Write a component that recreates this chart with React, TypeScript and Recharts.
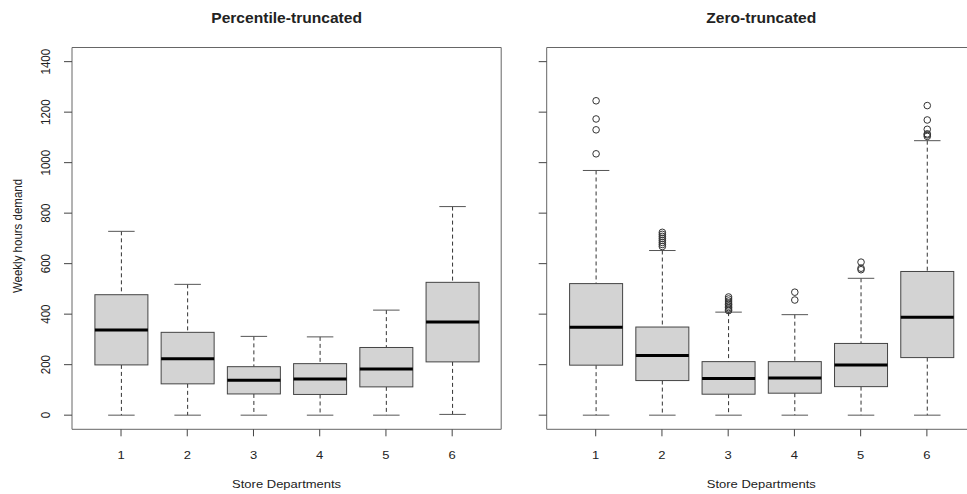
import React from 'react';
import { ComposedChart, Bar, Line, XAxis, YAxis } from 'recharts';

// departments on the x axis, shared by both panels
const departments = ['1', '2', '3', '4', '5', '6'];
const yTicks = [0, 200, 400, 600, 800, 1000, 1200, 1400];

// Percentile-truncated panel
const pctLow = [0, 0, 0, 0, 0, 3];
const pctQ1 = [199, 124, 84, 82, 112, 211];
const pctMedian = [337, 223, 138, 143, 183, 369];
const pctQ3 = [477, 328, 192, 204, 268, 526];
const pctHigh = [728, 518, 312, 310, 416, 826];

// Zero-truncated panel
const zeroLow = [0, 0, 0, 0, 0, 0];
const zeroQ1 = [198, 137, 83, 87, 113, 228];
const zeroMedian = [348, 236, 145, 147, 199, 388];
const zeroQ3 = [521, 349, 212, 212, 284, 569];
const zeroHigh = [969, 652, 408, 398, 542, 1087];
const zeroOutliers = [
  [1035, 1130, 1173, 1245],
  [668, 676, 684, 692, 700, 708, 716, 724],
  [414, 420, 426, 432, 438, 444, 452, 460, 468],
  [456, 487],
  [576, 582, 606],
  [1104, 1110, 1114, 1132, 1169, 1226],
];

const FONT = '"Liberation Sans", Arial, Helvetica, sans-serif';
const TEXT = '#222';
const FRAME = '#666';
const HS = 1.13; // the picture is a bit stretched sideways

type BoxRow = {
  dept: string;
  range: [number, number];
  q1: number;
  median: number;
  q3: number;
  outliers: number[];
};

function buildRows(
  low: number[],
  q1: number[],
  med: number[],
  q3: number[],
  high: number[],
  outliers: number[][]
): BoxRow[] {
  return departments.map((dept, i) => ({
    dept,
    range: [low[i], high[i]],
    q1: q1[i],
    median: med[i],
    q3: q3[i],
    outliers: outliers[i] || [],
  }));
}

const pctRows = buildRows(pctLow, pctQ1, pctMedian, pctQ3, pctHigh, []);
const zeroRows = buildRows(zeroLow, zeroQ1, zeroMedian, zeroQ3, zeroHigh, zeroOutliers);

// whisker range comes from the bar, the rest is placed on the same scale
function BoxShape(props: any) {
  const { x, y, width, height, payload } = props;
  if (!payload) return null;
  const [lo, hi] = payload.range;
  const top = Math.min(y, y + height);
  const bottom = Math.max(y, y + height);
  const toPx = (v: number) => bottom - ((v - lo) / (hi - lo)) * (bottom - top);
  const cx = x + width / 2;
  const cap = width / 4;
  const yq1 = toPx(payload.q1);
  const yq3 = toPx(payload.q3);
  const ymed = toPx(payload.median);
  return (
    <g>
      <line x1={cx} x2={cx} y1={top} y2={yq3} stroke="#333" strokeDasharray="4 3" />
      <line x1={cx} x2={cx} y1={yq1} y2={bottom} stroke="#333" strokeDasharray="4 3" />
      <line x1={cx - cap} x2={cx + cap} y1={top} y2={top} stroke="#555" />
      <line x1={cx - cap} x2={cx + cap} y1={bottom} y2={bottom} stroke="#555" />
      <rect x={x} y={yq3} width={width} height={yq1 - yq3} fill="#d3d3d3" stroke="#444" />
      <line x1={x} x2={x + width} y1={ymed} y2={ymed} stroke="#000" strokeWidth={3} />
      {payload.outliers.map((v: number, i: number) => (
        <circle key={i} cx={cx} cy={toPx(v)} r={3.3} fill="none" stroke="#333" />
      ))}
    </g>
  );
}

const XTick = (props: any) => {
  const { x, y, payload } = props;
  return (
    <text
      transform={`translate(${x},${y}) scale(${HS},1)`}
      textAnchor="middle"
      dy="0.71em"
      fontSize={11.5}
      fontFamily={FONT}
      fill={TEXT}
    >
      {payload.value}
    </text>
  );
};

const YTick = (props: any) => {
  const { x, y, payload } = props;
  return (
    <text
      transform={`translate(${x},${y}) rotate(-90) scale(1,${HS})`}
      textAnchor="middle"
      fontSize={11.5}
      fontFamily={FONT}
      fill={TEXT}
    >
      {payload.value}
    </text>
  );
};

const EmptyTick = () => <g />;

function Panel({
  rows,
  showLabels,
  rightFrame,
  width,
  margin,
  yAxisWidth,
}: {
  rows: BoxRow[];
  showLabels: boolean;
  rightFrame: boolean;
  width: number;
  margin: { top: number; right: number; bottom: number; left: number };
  yAxisWidth: number;
}) {
  return (
    <ComposedChart width={width} height={494} data={rows} margin={margin}>
      <XAxis
        dataKey="dept"
        height={40}
        padding={{ left: 15.9, right: 15.9 }}
        interval={0}
        tickSize={7}
        tickMargin={15}
        tick={<XTick />}
        axisLine={{ stroke: FRAME }}
        tickLine={{ stroke: '#444' }}
      />
      {/* frame: top edge */}
      <XAxis
        xAxisId="top"
        orientation="top"
        dataKey="dept"
        height={1}
        tick={false}
        tickLine={false}
        axisLine={{ stroke: FRAME }}
      />
      <YAxis
        type="number"
        domain={[-56, 1456]}
        ticks={yTicks}
        interval={0}
        allowDataOverflow
        width={yAxisWidth}
        tickSize={8}
        tickMargin={14}
        tick={showLabels ? <YTick /> : <EmptyTick />}
        axisLine={{ stroke: FRAME }}
        tickLine={{ stroke: '#444' }}
      />
      {/* frame: right edge */}
      <YAxis
        yAxisId="right"
        orientation="right"
        type="number"
        domain={[-56, 1456]}
        width={1}
        tick={false}
        tickLine={false}
        axisLine={rightFrame ? { stroke: FRAME } : false}
      />
      <Bar dataKey="range" barSize={53} shape={BoxShape} isAnimationActive={false} />
      <Line
        xAxisId="top"
        yAxisId="right"
        dataKey="median"
        stroke="none"
        dot={false}
        activeDot={false}
        legendType="none"
        isAnimationActive={false}
      />
    </ComposedChart>
  );
}

export default function App() {
  const textStyle = { fontFamily: FONT, fill: TEXT };
  return (
    <div
      style={{
        position: 'absolute',
        left: 0,
        top: 0,
        width: 967,
        height: 494,
        overflow: 'hidden',
        background: '#fff',
      }}
    >
      <div style={{ position: 'absolute', left: 0, top: 0 }}>
        <Panel
          rows={pctRows}
          showLabels
          rightFrame
          width={520}
          yAxisWidth={40}
          margin={{ top: 46.5, right: 17.8, bottom: 24.7, left: 32 }}
        />
      </div>
      <div style={{ position: 'absolute', left: 520, top: 0 }}>
        <Panel
          rows={zeroRows}
          showLabels={false}
          rightFrame={false}
          width={467}
          yAxisWidth={10}
          margin={{ top: 46.5, right: 10.1, bottom: 24.7, left: 16.7 }}
        />
      </div>
      <svg
        width={967}
        height={494}
        style={{ position: 'absolute', left: 0, top: 0, pointerEvents: 'none' }}
      >
        <text
          transform={`translate(286.6,22.5) scale(${HS},1)`}
          textAnchor="middle"
          fontSize={13.8}
          fontWeight="bold"
          style={textStyle}
        >
          Percentile-truncated
        </text>
        <text
          transform={`translate(761.3,22.5) scale(${HS},1)`}
          textAnchor="middle"
          fontSize={13.8}
          fontWeight="bold"
          style={textStyle}
        >
          Zero-truncated
        </text>
        <text
          transform={`translate(286.6,488) scale(${HS},1)`}
          textAnchor="middle"
          fontSize={11.5}
          style={textStyle}
        >
          Store Departments
        </text>
        <text
          transform={`translate(761.3,488) scale(${HS},1)`}
          textAnchor="middle"
          fontSize={11.5}
          style={textStyle}
        >
          Store Departments
        </text>
        <text
          transform={`translate(22.4,236) rotate(-90) scale(1,${HS})`}
          textAnchor="middle"
          fontSize={11.5}
          style={textStyle}
        >
          Weekly hours demand
        </text>
      </svg>
    </div>
  );
}
